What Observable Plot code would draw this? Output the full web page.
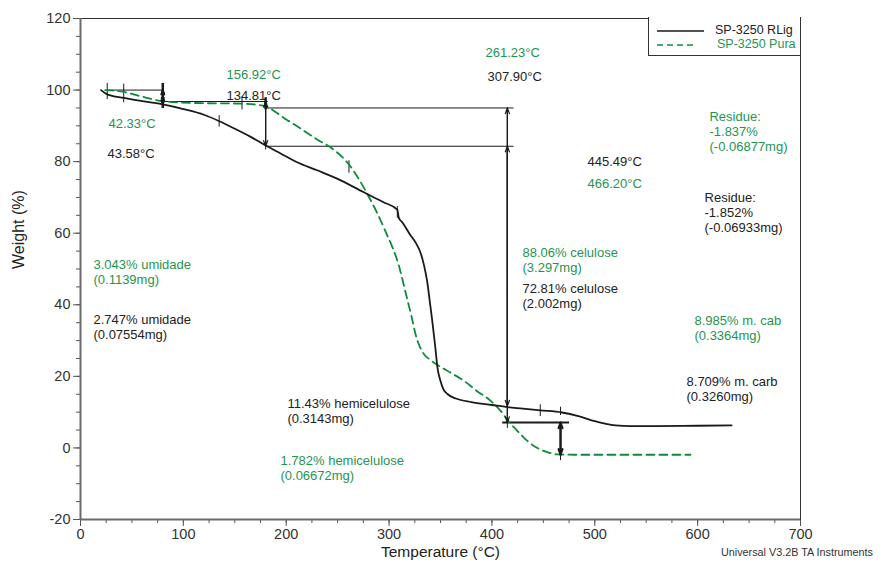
<!DOCTYPE html>
<html>
<head>
<meta charset="utf-8">
<script src="https://cdn.jsdelivr.net/npm/d3@7"></script>
<script src="https://cdn.jsdelivr.net/npm/@observablehq/plot@0.6"></script>
<style>
  body { margin: 0; background: #fff; }
  #wrap { position: relative; width: 882px; height: 566px; font-family: "Liberation Sans", Arial, sans-serif; }
  #legend { position: absolute; left: 648px; top: 17px; width: 153px; height: 39px; border: 1px solid #333; border-top: none; background: #fff; box-sizing: border-box; font-size: 12.5px; }
  #legend svg { position: absolute; left: 7px; top: 3px; }
  #legend span { position: absolute; white-space: nowrap; }
  #credit { position: absolute; left: 721px; top: 546px; font-size: 10.8px; color: #333; white-space: nowrap; }
</style>
</head>
<body>
<div id="wrap"></div>
<script>
// TGA curves: temperature (°C) vs. weight (%)
const tempRLig   = [20, 26, 42, 60, 80, 100, 120, 135, 150, 165, 180, 195, 210, 230, 250, 275, 295, 308, 309.5, 313, 320, 326, 331, 334, 337, 340, 342, 345, 347, 350, 353, 357, 365, 380, 400, 415, 430, 447, 468, 485, 500, 510, 520, 535, 560, 600, 633];
const weightRLig = [100, 98.8, 97.8, 96.9, 96.0, 94.7, 93.1, 91.3, 89.2, 87.0, 84.5, 82.2, 79.9, 77.6, 75.2, 71.5, 68.6, 66.6, 64.3, 63.0, 59.8, 57.3, 54.2, 51.0, 46.6, 40.0, 35.5, 28.0, 22.5, 18.7, 16.3, 15.0, 13.8, 12.8, 12.0, 11.4, 11.0, 10.5, 9.9, 8.8, 7.5, 6.8, 6.3, 6.1, 6.1, 6.2, 6.3];

const tempPura   = [24, 30, 42, 58, 80, 110, 157, 180, 190, 200, 210, 230, 243, 261, 279, 295, 311, 316, 322, 326, 330, 334, 340, 347, 360, 373, 385, 399, 408, 416, 424, 431, 440, 447, 455, 463, 480, 530, 593];
const weightPura = [100, 99.9, 99.5, 98.3, 96.9, 96.4, 96.2, 95.5, 93.8, 91.8, 90.0, 86.2, 84.0, 79.2, 70.9, 61.5, 49.4, 43.5, 36.5, 31.5, 28.2, 26.2, 24.6, 23.2, 21.0, 18.7, 16.0, 13.1, 10.5, 7.5, 5.0, 2.9, 0.7, -0.4, -1.3, -1.8, -1.9, -1.9, -1.9];

// Step-analysis guides (data units)
const guideX1 = [26, 80, 180, 180, 410];
const guideX2 = [80, 182, 421, 421, 475];
const guideY  = [100, 96.8, 95.0, 84.3, 7.1];
const guideW  = [1, 1, 1, 1, 2];

// Double-headed step arrows
const arrowX  = [80, 80, 180, 180, 415, 415, 466.7];
const arrowY1 = [100, 100, 96.8, 96.8, 95.0, 84.3, 7.1];
const arrowY2 = [96.0, 96.9, 95.0, 84.3, 7.1, 11.7, -1.9];
const arrowW  = [1.6, 1.6, 1.6, 1.2, 1.2, 1.2, 2];

// Onset/offset cursor ticks
const tickX  = [26, 42, 80, 134.8, 157, 180, 180, 261, 308, 415, 447, 466.7, 466.7];
const tickY1 = [97.5, 96.6, 95.0, 89.8, 94.6, 94.6, 83.4, 76.9, 64.3, 5.6, 8.9, 9.2, -3.4];
const tickY2 = [102, 101.8, 102, 93.0, 98.2, 98.0, 85.4, 80.4, 67.6, 8.6, 12.2, 11.5, -0.6];

// Annotation texts: x (°C), y (%) of first line, series
const noteText = [
  "156.92°C", "134.81°C", "42.33°C", "43.58°C", "261.23°C", "307.90°C", "445.49°C", "466.20°C",
  "Residue:\n-1.837%\n(-0.06877mg)", "Residue:\n-1.852%\n(-0.06933mg)",
  "3.043% umidade\n(0.1139mg)", "2.747% umidade\n(0.07554mg)",
  "88.06% celulose\n(3.297mg)", "72.81% celulose\n(2.002mg)",
  "8.985% m. cab\n(0.3364mg)", "8.709% m. carb\n(0.3260mg)",
  "11.43% hemicelulose\n(0.3143mg)", "1.782% hemicelulose\n(0.06672mg)"
];
const noteX = [141.9, 141.9, 27.2, 26.2, 393.7, 395.7, 492.9, 492.9, 611.5, 606.7, 12.6, 12.6, 429.7, 429.7, 596.9, 589.2, 201.2, 194.4];
const noteY = [104.7, 98.9, 91.1, 82.7, 110.9, 104.2, 80.4, 74.3, 93.0, 70.4, 51.7, 36.3, 55.0, 45.0, 36.0, 19.0, 12.8, -3.1];
const noteSeries = ["Pura", "RLig", "Pura", "RLig", "Pura", "RLig", "RLig", "Pura", "Pura", "RLig", "Pura", "RLig", "Pura", "RLig", "Pura", "RLig", "RLig", "Pura"];

const xMajor = [0, 100, 200, 300, 400, 500, 600, 700];
const yMajor = [-20, 0, 20, 40, 60, 80, 100, 120];

const GREEN_TEXT = "#1f9450";
const GREEN_LINE = "#0f8a3a";
const DARK = "#1a1a1a";

const rlig = tempRLig.map((t, i) => ({t, w: weightRLig[i]}));
const pura = tempPura.map((t, i) => ({t, w: weightPura[i]}));
const guides = guideX1.map((x1, i) => ({x1, x2: guideX2[i], y: guideY[i], sw: guideW[i]}));
const arrows = arrowX.flatMap((x, i) => [
  {x, y1: arrowY1[i], y2: arrowY2[i], sw: arrowW[i]},
  {x, y1: arrowY2[i], y2: arrowY1[i], sw: arrowW[i]}
]);
const ticks = tickX.map((x, i) => ({x, y1: tickY1[i], y2: tickY2[i], sw: (x === 80 || x === 180) && tickY2[i] > 95 ? 2.5 : 1}));
const notes = noteText.map((text, i) => ({text, x: noteX[i], y: noteY[i], s: noteSeries[i]}));

const font = '"Liberation Sans", Arial, sans-serif';

const chart = Plot.plot({
  width: 882,
  height: 566,
  marginLeft: 80,
  marginRight: 82,
  marginTop: 18,
  marginBottom: 47,
  style: {fontFamily: font, background: "#fff", color: "#333"},
  x: {domain: [0, 700]},
  y: {domain: [-20, 120]},
  marks: [
    // minor ticks (no labels)
    Plot.axisX(d3.range(0, 701, 25), {tickSize: 4, text: null, label: null, stroke: "#555"}),
    Plot.axisY(d3.range(-20, 121, 5), {tickSize: 4, text: null, label: null, stroke: "#555"}),
    // major ticks with labels
    Plot.axisX(xMajor, {tickSize: 7, tickPadding: 2, label: null, fontSize: 14.5, stroke: "#555", fill: "#333", tickFormat: d => String(d)}),
    Plot.axisY(yMajor, {tickSize: 7, tickPadding: 3, label: null, fontSize: 14.5, stroke: "#555", fill: "#333", tickFormat: d => String(d)}),
    Plot.frame({stroke: "#333", strokeWidth: 1}),
    Plot.ruleX([0], {stroke: "#6a6a6a", strokeWidth: 2}),
    Plot.ruleY([-20], {stroke: "#6a6a6a", strokeWidth: 2}),
    // guides
    Plot.link(guides, {x1: "x1", x2: "x2", y1: "y", y2: "y", stroke: DARK, strokeWidth: d => d.sw}),
    Plot.link(ticks, {x1: "x", x2: "x", y1: "y1", y2: "y2", stroke: DARK, strokeWidth: d => d.sw}),
    // curves
    Plot.line(pura, {x: "t", y: "w", stroke: GREEN_LINE, strokeWidth: 1.8, strokeDasharray: "8,5", curve: "monotone-x"}),
    Plot.line(rlig, {x: "t", y: "w", stroke: DARK, strokeWidth: 1.8, curve: "monotone-x"}),
    // arrows
    Plot.arrow(arrows, {x1: "x", x2: "x", y1: "y1", y2: "y2", stroke: DARK, strokeWidth: d => d.sw, headLength: 9, headAngle: 40}),
    // annotation texts
    Plot.text(notes, {
      x: "x", y: "y", text: "text",
      fill: d => d.s === "Pura" ? GREEN_TEXT : "#222",
      textAnchor: "start", lineAnchor: "top", dy: -4.6, lineHeight: 1.154,
      fontSize: 13
    }),
    // axis titles
    Plot.text(["Temperature (°C)"], {frameAnchor: "bottom", dy: 37, text: d => d, fontSize: 15.5, fill: "#222"}),
    Plot.text(["Weight (%)"], {frameAnchor: "left", dx: -62, rotate: -90, text: d => d, fontSize: 16, fill: "#222"})
  ]
});

const wrap = document.getElementById("wrap");
wrap.appendChild(chart);

// legend
const legend = document.createElement("div");
legend.id = "legend";
legend.innerHTML = `
  <svg width="50" height="34">
    <line x1="1" x2="48" y1="11" y2="11" stroke="${DARK}" stroke-width="1.3"/>
    <line x1="1" x2="38" y1="25" y2="25" stroke="${GREEN_LINE}" stroke-width="1.3" stroke-dasharray="6,4"/>
  </svg>
  <span style="left:66px;top:6px;color:#222">SP-3250 RLig</span>
  <span style="left:68px;top:20px;color:${GREEN_TEXT}">SP-3250 Pura</span>`;
wrap.appendChild(legend);

const credit = document.createElement("div");
credit.id = "credit";
credit.textContent = "Universal V3.2B TA Instruments";
wrap.appendChild(credit);
</script>
</body>
</html>
